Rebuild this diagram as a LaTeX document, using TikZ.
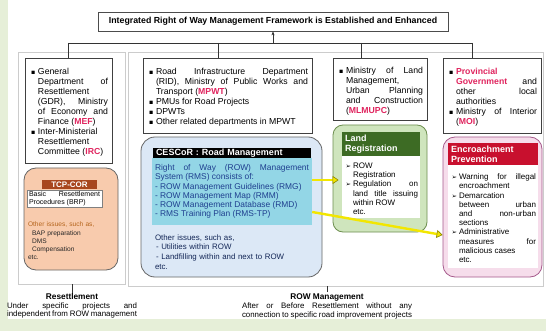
\documentclass[tikz,border=0pt]{standalone}
\usepackage{fontspec}
\setmainfont{Liberation Sans}
\newfontfamily\symfont{DejaVu Sans}
\usepackage{amssymb}
\usepackage{enumitem}
\usetikzlibrary{arrows.meta, positioning}
\definecolor{bggreen}{HTML}{E6EFD8}
\definecolor{agred}{HTML}{E0245E}
\definecolor{peach}{HTML}{F8CBAD}
\definecolor{tcpbrown}{HTML}{A8471E}
\definecolor{tcptext}{HTML}{B5651D}
\definecolor{cesblue}{HTML}{DCE8F6}
\definecolor{rmscyan}{HTML}{93D6E6}
\definecolor{rmsnavy}{HTML}{1F3F8F}
\definecolor{landlight}{HTML}{CFE5BD}
\definecolor{landdark}{HTML}{3D6B24}
\definecolor{landedge}{HTML}{6E8F50}
\definecolor{encpink}{HTML}{F6DDEB}
\definecolor{encred}{HTML}{C8102E}
\definecolor{encedge}{HTML}{A65A8C}
\definecolor{yarrow}{HTML}{F2E600}
\newcommand{\agred}[1]{\textcolor{agred}{\textbf{#1}}}
\newlist{sqlist}{itemize}{1}
\setlist[sqlist]{leftmargin=9pt,labelsep=3pt,nosep,label=\scalebox{0.55}{$\blacksquare$}}
\newlist{arlist}{itemize}{1}
\setlist[arlist]{leftmargin=9pt,labelsep=2pt,nosep,label={\symfont\fontsize{6.5}{6}\selectfont ➢}}
\tikzstyle{titlebox} = [rectangle, draw=black!70, thick, fill=white,
minimum width=350pt, minimum height=19pt,
font=\bfseries\fontsize{8.8}{9}\selectfont]
\tikzstyle{agency} = [rectangle, draw=black!75, fill=white,
inner xsep=4pt, inner ysep=3pt, align=justify,
font=\fontsize{8.7}{10}\selectfont\sloppy]
\tikzstyle{frame} = [rectangle, draw=gray!40]
\tikzstyle{roundbox} = [rectangle, rounded corners=12pt, draw=black!60, thick]
\tikzstyle{headbar} = [rectangle, inner sep=3pt, text=white,
font=\bfseries\fontsize{9}{10}\selectfont]
\tikzstyle{inbox} = [rectangle, inner xsep=2pt, inner ysep=3pt, fill=white,
align=justify, font=\fontsize{8}{9.1}\selectfont\sloppy]
\tikzstyle{yellowarrow} = [line width=2.4pt, draw=yarrow,
-{Triangle[length=6pt,width=8pt,line width=0.6pt,fill=yarrow,color=olive]}]
\tikzstyle{line} = [draw=black!80, semithick]
\tikzstyle{foot} = [font=\bfseries\fontsize{8.3}{9}\selectfont, inner sep=1pt]
\tikzstyle{footdesc} = [font=\fontsize{7.9}{8.3}\selectfont, align=justify, inner sep=0pt]

\begin{document}
\begin{tikzpicture}[x=1pt, y=-1pt]
\useasboundingbox (0,0) rectangle (546,331);
\fill[white] (0,0) rectangle (546,331);
\fill[bggreen] (0,0) rectangle (8,331);
\fill[bggreen] (0,319) rectangle (546,331);

\node (resframe) [frame, minimum width=107pt, minimum height=232pt] at (71.5,168) {};
\node (rowframe) [frame, minimum width=415pt, minimum height=234pt] at (335.5,169) {};

\node (title) [titlebox] at (273,21.5) {Integrated Right of Way Management Framework is Established and Enhanced};

% agencies
\node (gdr) [agency, text width=79pt, minimum height=105pt] at (68.5,110.5) {%
\begin{sqlist}
\item General\linebreak Department of\linebreak Resettlement\linebreak (GDR), Ministry\linebreak of Economy and\linebreak Finance (\agred{MEF})
\item Inter-Ministerial\linebreak Resettlement\linebreak Committee (\agred{IRC})
\end{sqlist}};
\node (mpwt) [agency, text width=161pt, minimum height=75pt] at (227.5,95.5) {%
\begin{sqlist}
\item Road Infrastructure Department\linebreak (RID), Ministry of Public Works and\linebreak Transport (\agred{MPWT})
\item PMUs for Road Projects
\item DPWTs
\item Other related departments in MPWT
\end{sqlist}};
\node (mlmupc) [agency, text width=86pt, minimum height=62pt] at (380,89) {%
\begin{sqlist}
\item Ministry of Land\linebreak Management,\linebreak Urban Planning\linebreak and Construction\linebreak (\agred{MLMUPC})
\end{sqlist}};
\node (moi) [agency, text width=90pt, minimum height=75pt] at (492,95.5) {%
\begin{sqlist}
\item \agred{Provincial}\linebreak \agred{Government} and\linebreak other local\linebreak authorities
\item Ministry of Interior\linebreak (\agred{MOI})
\end{sqlist}};

\coordinate (bus1) at (68,43);
\coordinate (bus2) at (218,43);
\coordinate (bus3) at (361,43);
\coordinate (bus4) at (472,43);
\coordinate (busmid) at (273,43);
\draw [line] (bus1) -- (bus4);
\draw [line, -{Stealth[length=4pt,width=3pt]}] (busmid) -- (title.south);
\draw [line] (bus1) -- (bus1 |- gdr.north);
\draw [line] (bus2) -- (bus2 |- mpwt.north);
\draw [line] (bus3) -- (bus3 |- mlmupc.north);
\draw [line] (bus4) -- (bus4 |- moi.north);

% TCP-COR
\node (tcp) [roundbox, fill=peach, minimum width=94pt, minimum height=102pt] at (71,219) {};
\node (tcphead) [headbar, fill=tcpbrown, minimum width=55pt, minimum height=9pt, inner sep=1pt, font=\bfseries\fontsize{8}{8}\selectfont] at (69.5,185) {TCP-COR};
\node (brp) [inbox, draw=black!50, text width=71pt, minimum height=14pt, inner ysep=1.5pt, font=\fontsize{7}{8}\selectfont] at (64.5,198.5) {Basic Resettlement\linebreak Procedures (BRP)};
\node (tcpissues) [inbox, fill=none, text width=72pt, align=left, text=black!85, font=\fontsize{6.6}{8.2}\selectfont] at (64,241) {%
\textcolor{tcptext}{Other issues, such as,}\\
\hspace*{4pt}BAP preparation\\
\hspace*{4pt}DMS\\
\hspace*{4pt}Compensation\\
etc.};

% CESCoR
\node (cescor) [roundbox, rounded corners=14pt, fill=cesblue, minimum width=181pt, minimum height=140pt] at (231.5,207) {};
\node (cescorhead) [headbar, fill=black, text width=152pt, align=left, minimum height=10pt, inner ysep=0.5pt] at (232,153) {CESCoR : Road Management};
\node (rms) [inbox, fill=rmscyan, text=rmsnavy, text width=154pt, minimum height=67pt, inner xsep=3pt, font=\fontsize{8.4}{9.3}\selectfont\sloppy] at (232,191.5) {%
Right of Way (ROW) Management\linebreak System (RMS) consists of:\\
- ROW Management Guidelines (RMG)\\
- ROW Management Map (RMM)\\
- ROW Management Database (RMD)\\
- RMS Training Plan (RMS-TP)};
\node (cescorissues) [inbox, fill=none, text=rmsnavy!60!black, text width=150pt, align=left, font=\fontsize{7.9}{9.8}\selectfont] at (230,252) {%
Other issues, such as,\\
\hspace*{1pt}- Utilities within ROW\\
\hspace*{1pt}- Landfilling within and next to ROW\\
etc.};

% Land registration
\node (landreg) [roundbox, rounded corners=10pt, draw=landedge, fill=landlight, minimum width=94pt, minimum height=107pt] at (380,178.5) {};
\node (landhead) [headbar, fill=landdark, text width=72pt, align=left, minimum height=24pt] at (381,144) {Land\\Registration};
\node (landitems) [inbox, text width=74pt, minimum height=62pt] at (381,187) {%
\begin{arlist}
\item ROW\linebreak Registration
\item Regulation on\linebreak land title issuing\linebreak within ROW
\item[] etc.
\end{arlist}};

% Encroachment prevention
\node (encroach) [roundbox, draw=encedge, fill=encpink, minimum width=99pt, minimum height=140pt] at (492.5,207) {};
\node (enchead) [headbar, fill=encred, text width=84pt, align=left, minimum height=22pt] at (493,154) {Encroachment\\Prevention};
\node (encitems) [inbox, text width=86pt, minimum height=103pt, font=\fontsize{8}{9.2}\selectfont\sloppy] at (493,216.5) {%
\begin{arlist}
\item Warning for illegal\linebreak encroachment
\item Demarcation\linebreak between urban\linebreak and non-urban\linebreak sections
\item Administrative\linebreak measures for\linebreak malicious cases
\item[] etc.
\end{arlist}};

\draw [yellowarrow] (rms.east |- 0,180) -- ([xshift=6pt]landreg.west |- 0,180);
\draw [yellowarrow] (rms.east |- 0,212) -- (encroach.west |- 0,235);

% footers
\node (reshead) [foot] at (72,297) {Resettlement};
\node (resdesc) [footdesc, text width=130pt, below=1pt of reshead] {Under specific projects and\linebreak independent from ROW management};
\node (rowhead) [foot] at (327,297) {ROW Management};
\node (rowdesc) [footdesc, text width=170pt, below=1pt of rowhead] {After or Before Resettlement without any\linebreak connection to specific road improvement projects};
\draw [line, thin] (reshead.north |- resframe.south) -- (reshead.north);
\draw [line, thin] (rowhead.north |- rowframe.south) -- (rowhead.north);
\end{tikzpicture}
\end{document}
